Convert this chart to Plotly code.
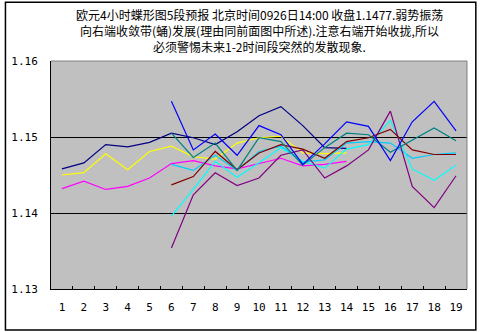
import plotly.graph_objects as go

# Hours / periods along the x axis
periods = [str(i) for i in range(1, 20)]
early = periods[:14]      # periods 1-14
late = periods[5:]        # periods 6-19

# Series covering periods 1-14
navy_vals = [1.1458, 1.1466, 1.1490, 1.1487, 1.1493, 1.1505, 1.1499, 1.1490,
             1.1507, 1.1528, 1.1540, 1.1515, 1.1486, 1.1485]
magenta_vals = [1.1432, 1.1442, 1.1431, 1.1435, 1.1446, 1.1465, 1.1469, 1.1462,
                1.1458, 1.1465, 1.1472, 1.1462, 1.1464, 1.1468]
yellow_vals = [1.1450, 1.1453, 1.1478, 1.1457, 1.1481, 1.1488, 1.1474, 1.1471,
               1.1492, 1.1499, 1.1501, 1.1479, 1.1478, 1.1479]

# Series covering periods 6-19
skyblue_vals = [1.1464, 1.1456, 1.1476, 1.1456, 1.1481, 1.1488, 1.1467, 1.1470,
                1.1492, 1.1494, 1.1492, 1.1472, 1.1477, 1.1479]
cyan_vals = [1.1396, 1.1431, 1.1468, 1.1447, 1.1466, 1.1486, 1.1468, 1.1459,
             1.1484, 1.1490, 1.1522, 1.1458, 1.1443, 1.1463]
purple_vals = [1.1354, 1.1424, 1.1453, 1.1436, 1.1446, 1.1476, 1.1483, 1.1446,
               1.1462, 1.1483, 1.1534, 1.1435, 1.1407, 1.1449]
darkred_vals = [1.1437, 1.1448, 1.1481, 1.1457, 1.1479, 1.1490, 1.1484, 1.1472,
                1.1494, 1.1499, 1.1510, 1.1483, 1.1477, 1.1477]
teal_vals = [1.1505, 1.1473, 1.1492, 1.1456, 1.1499, 1.1494, 1.1463, 1.1486,
             1.1505, 1.1503, 1.1480, 1.1496, 1.1512, 1.1495]
blue_vals = [1.1547, 1.1483, 1.1504, 1.1476, 1.1515, 1.1503, 1.1464, 1.1491,
             1.1520, 1.1514, 1.1469, 1.1520, 1.1547, 1.1508]

y_ticks = [1.13, 1.14, 1.15, 1.16]
y_tick_text = ["1.13", "1.14", "1.15", "1.16"]

title_lines = [
    "欧元4小时蝶形图5段预报 北京时间0926日14:00 收盘1.1477.弱势振荡",
    "向右端收敛带(蛹)发展(理由同前面图中所述).注意右端开始收拢,所以",
    "必须警惕未来1-2时间段突然的发散现象.",
]

series = [
    (early, navy_vals, "#000080"),
    (early, magenta_vals, "#FF00FF"),
    (early, yellow_vals, "#FFFF00"),
    (late, skyblue_vals, "#00CCFF"),
    (late, cyan_vals, "#00FFFF"),
    (late, purple_vals, "#800080"),
    (late, darkred_vals, "#800000"),
    (late, teal_vals, "#008080"),
    (late, blue_vals, "#0000FF"),
]

fig = go.Figure()
for xs, ys, color in series:
    fig.add_trace(go.Scatter(x=xs, y=ys, mode="lines",
                             line=dict(color=color, width=1.2),
                             showlegend=False, hoverinfo="skip"))

fig.update_layout(
    width=483, height=332,
    margin=dict(l=51, r=16, t=61, b=43),
    paper_bgcolor="white",
    plot_bgcolor="#C0C0C0",
    font=dict(family="Noto Sans CJK SC", size=12, color="black"),
    showlegend=False,
)

# Three-line heading, one annotation per line
for line_text, ypos in zip(title_lines, [1.203, 1.133, 1.062]):
    fig.add_annotation(text=line_text, xref="paper", yref="paper",
                       x=0.5, y=ypos, xanchor="center", yanchor="middle",
                       showarrow=False,
                       font=dict(family="Noto Sans CJK SC", size=12, color="black"))

fig.update_xaxes(
    type="category", categoryorder="array", categoryarray=periods,
    range=[-0.5, 18.5],
    showgrid=False, zeroline=False,
    showline=True, linecolor="black", linewidth=1,
    ticks="inside", ticklen=3, tickcolor="black", tickson="boundaries",
    tickangle=0,
    tickfont=dict(family="DejaVu Sans Mono", size=11),
    ticklabelstandoff=8,
)
fig.update_yaxes(
    range=[1.13, 1.16], tickvals=y_ticks, ticktext=y_tick_text,
    showgrid=True, gridcolor="black", gridwidth=1,
    zeroline=False,
    showline=True, linecolor="black", linewidth=1,
    ticks="", tickfont=dict(family="DejaVu Sans Mono", size=11),
    ticklabelstandoff=10,
)

# Gray top/right edges of the plot area
fig.add_shape(type="line", xref="paper", yref="paper", x0=0, x1=1, y0=1, y1=1,
              line=dict(color="#808080", width=1))
fig.add_shape(type="line", xref="paper", yref="paper", x0=1, x1=1, y0=0, y1=1,
              line=dict(color="#808080", width=1))

# Frame around the whole chart
fig.add_shape(type="rect", xref="paper", yref="paper",
              x0=-0.1095, x1=1.0212, y0=-0.180, y1=1.258,
              line=dict(color="black", width=1.5), fillcolor="rgba(0,0,0,0)")

fig.write_html("out.html")
